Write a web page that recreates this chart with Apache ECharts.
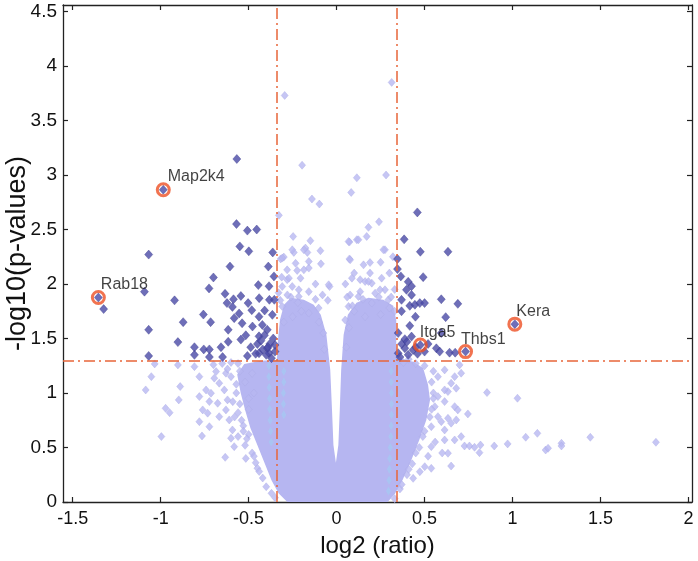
<!DOCTYPE html>
<html><head><meta charset="utf-8">
<script src="https://cdn.jsdelivr.net/npm/echarts@6/dist/echarts.min.js"></script>
<style>html,body{margin:0;padding:0;background:#fff}#c{width:698px;height:561px}</style>
</head><body><div id="c"></div>
<script>
const xTicks=[-1.5,-1,-0.5,0,0.5,1,1.5,2];
const yTicks=[0,0.5,1,1.5,2,2.5,3,3.5,4,4.5];
const pThreshold=1.301;
const fcThresholds=[-0.337,0.337];
const geneNames=['Map2k4','Rab18','Itga5','Thbs1','Kera'];
const geneX=[-0.985,-1.354,0.476,0.733,1.013];
const geneY=[2.865,1.876,1.44,1.38,1.632];

// outline of the dense, fully overlapping cloud of non-significant proteins
const coreOutline=[[-0.28,0],[-0.33,0.08],[-0.37,0.2],[-0.41,0.36],[-0.45,0.52],[-0.49,0.68],[-0.52,0.845],[-0.545,1.0],[-0.565,1.17],[-0.525,1.267],[-0.429,1.295],[-0.339,1.304],[-0.333,1.488],[-0.322,1.671],[-0.299,1.809],[-0.26,1.873],[-0.186,1.855],[-0.13,1.809],[-0.09,1.717],[-0.058,1.534],[-0.036,1.212],[-0.026,0.845],[-0.018,0.523],[-0.004,0.36],[0.01,0.523],[0.018,0.845],[0.026,1.212],[0.04,1.534],[0.064,1.717],[0.113,1.827],[0.181,1.873],[0.266,1.855],[0.322,1.80],[0.339,1.671],[0.339,1.442],[0.35,1.322],[0.435,1.286],[0.492,1.23],[0.52,1.074],[0.531,0.937],[0.51,0.753],[0.47,0.569],[0.425,0.386],[0.375,0.202],[0.33,0.07],[0.29,0]];

const lightPoints=[[-0.295,3.73],[0.313,3.85],[-0.196,3.09],[0.115,2.975],[0.281,3.0],[0.083,2.84],[-0.14,2.78],[-0.098,2.734],[-0.328,2.63],[0.241,2.571],[0.181,2.52],[-0.247,2.436],[-0.149,2.397],[0.073,2.385],[0.115,2.406],[0.171,2.436],[0.275,2.314],[-0.177,2.33],[-0.166,2.29],[-0.092,2.305],[-0.243,2.29],[-0.30,2.247],[-0.318,2.23],[-0.233,2.19],[-0.089,2.185],[0.073,2.23],[0.19,2.197],[-0.281,2.13],[-0.224,2.124],[-0.158,2.146],[0.087,2.054],[0.134,2.04],[0.162,2.023],[0.2,2.008],[0.256,2.054],[0.19,2.10],[-0.312,2.063],[-0.281,2.04],[-0.205,2.054],[-0.04,1.977],[-0.252,1.977],[-0.215,1.947],[0.077,1.90],[0.134,1.93],[0.219,1.916],[0.275,1.947],
[-0.252,2.314],[-0.186,2.314],[-0.309,2.238],[-0.158,2.207],[-0.186,2.13],[-0.271,2.054],[-0.045,1.993],[-0.309,1.977],[-0.158,1.93],[-0.215,1.885],[-0.102,1.779],[-0.309,1.794],[-0.158,1.733],
[0.068,2.39],[0.124,2.406],[0.266,2.314],[0.077,2.222],[0.153,2.176],[0.181,2.023],[0.247,1.947],[0.124,1.885],[0.068,1.794],[0.2,1.825],[0.294,1.855],[0.162,1.70],[0.049,1.67],
[0.3,2.1],[0.32,2.25],[0.25,2.2],[0.05,2.0],[0.1,2.1],[-0.12,2.0],[-0.08,1.9],[-0.33,1.92],[-0.26,1.88],[0.33,1.95],[0.3,1.78],[0.1,1.75],[-0.05,1.85],[0.06,1.88],[-0.2,1.75],[-0.25,1.7],[-0.3,1.65],[0.25,1.72],
[-0.32,1.85],[-0.28,1.9],[-0.22,1.83],[-0.12,1.86],[-0.1,1.65],[-0.075,1.55],[-0.07,1.4],[0.055,1.42],[0.07,1.6],[0.09,1.8],[0.15,1.86],[0.24,1.88],[0.31,1.88],[0.33,1.75],[0.36,1.3],[0.38,1.28],[0.41,1.31],
[-1.034,1.267],[-1.053,1.15],[-1.085,1.028],[-0.902,1.258],[-0.889,1.059],[-0.897,0.937],[-0.972,0.86],[-0.949,0.82],[-0.996,0.60],[-0.808,1.242],[-0.78,1.15],[-0.742,1.028],[-0.714,0.998],[-0.78,0.967],[-0.723,0.921],[-0.676,0.906],[-0.761,0.845],[-0.733,0.815],[-0.78,0.737],[-0.723,0.691],[-0.765,0.606],[-0.695,1.136],[-0.667,1.09],[-0.638,1.028],[-0.62,0.937],[-0.629,0.845],[-0.685,1.197],[-0.629,1.182],[-0.667,0.783],[-0.61,0.753],[-0.592,0.661],[-0.60,0.585],[-0.582,0.508],[-0.633,0.41],[-0.516,0.40],[-0.45,0.31],
[-0.55,1.2],[-0.52,1.1],[-0.57,1.0],[-0.55,0.9],[-0.5,0.85],[-0.58,0.78],[-0.53,0.7],[-0.5,0.62],[-0.6,1.15],[-0.48,1.18],[-0.47,1.0],[-0.5,0.95],[-0.65,1.27],[-0.6,1.28],[-0.56,0.6],[-0.52,0.52],[-0.48,0.45],[-0.46,0.36],[-0.42,0.22],[-0.4,0.14],[-0.37,0.08],
[-0.54,0.75],[-0.51,0.58],[-0.47,0.42],[-0.44,0.28],[-0.35,0.04],[-0.57,1.08],[-0.59,0.92],[-0.56,0.82],[-0.53,0.65],[-0.62,1.22],[-0.7,1.26],[-0.56,1.27],
[0.855,1.004],[1.028,0.952],[0.708,1.182],[0.651,1.09],[0.68,1.044],[0.633,1.013],[0.614,0.921],[0.671,0.875],[0.689,0.845],[0.746,0.808],[0.633,0.768],[0.68,0.753],[0.651,0.723],[0.614,0.661],[0.671,0.569],[0.708,0.60],[0.727,0.514],[0.755,0.514],[0.784,0.502],[0.818,0.523],[0.812,0.453],[0.896,0.514],[0.972,0.533],[1.075,0.594],[1.141,0.63],[1.188,0.477],[1.202,0.493],[1.278,0.539],[1.278,0.514],[1.442,0.594],[1.815,0.548],[0.633,0.447],[0.538,0.508],[0.614,0.569],[0.651,0.33],[0.538,0.309],[0.435,0.217],[0.501,0.324],[0.473,0.278],[0.671,1.15],[0.614,1.212],[0.699,1.258],[0.576,1.15],[0.614,1.028],[0.576,0.967],[0.558,0.875],[0.576,0.783],[0.538,0.691],[0.595,0.737],
[0.55,1.0],[0.54,0.85],[0.5,0.65],[0.47,0.5],[0.43,0.35],[0.4,0.25],[0.36,0.12],[0.45,1.27],[0.5,1.25],[0.55,1.2],[0.52,0.42],[0.56,0.55],[0.6,0.45],
[0.54,1.1],[0.55,0.95],[0.53,0.78],[0.49,0.6],[0.45,0.45],[0.41,0.3],[0.37,0.16],[0.33,0.03]];

// pale-blue overlapping streaks inside the cloud
const streakPoints=[[-0.385,1.25],[-0.385,1.15],[-0.383,1.05],[-0.381,0.95],[-0.38,0.85],[-0.378,0.75],[-0.375,0.65],[-0.372,0.55],[0.31,1.2],[0.31,1.1],[0.312,1.0],[0.312,0.9],[0.312,0.8],[0.31,0.7],[0.308,0.6],[0.305,0.5],[0.302,0.4],[0.3,0.3],[0.298,0.2],[0.295,0.1],[-0.3,1.2],[-0.3,1.1],[-0.302,1.0],[-0.302,0.9],[-0.3,0.8]];

const downPoints=[[-0.567,3.147],[-0.569,2.55],[-0.507,2.49],[-0.454,2.50],[-0.55,2.345],[-0.499,2.30],[-1.068,2.27],[-0.363,2.29],[-0.606,2.16],[-0.388,2.16],[-0.356,2.07],[-0.70,2.06],[-0.445,1.99],[-0.384,1.98],[-0.725,1.96],[-1.092,1.93],[-0.634,1.91],[-0.544,1.89],[-0.921,1.85],[-0.586,1.86],[-0.44,1.87],[-0.382,1.855],[-0.354,1.855],[-0.623,1.825],[-0.503,1.825],[-0.592,1.79],[-0.482,1.76],[-0.409,1.757],[-1.324,1.77],[-0.554,1.73],[-0.757,1.72],[-0.582,1.687],[-0.441,1.70],[-0.365,1.717],[-0.872,1.65],[-0.716,1.65],[-0.537,1.64],[-0.478,1.61],[-0.422,1.625],[-1.068,1.58],[-0.616,1.58],[-0.394,1.58],[-0.516,1.53],[-0.441,1.52],[-0.902,1.467],[-0.616,1.47],[-0.544,1.49],[-0.808,1.42],[-0.755,1.40],[-0.723,1.40],[-0.657,1.42],[-0.488,1.42],[-0.394,1.41],[-1.068,1.34],[-0.808,1.35],[-0.723,1.33],[-0.648,1.33],[-0.507,1.34],[-0.441,1.365],[-0.384,1.365],[-0.45,1.45],[-0.42,1.40],[-0.40,1.35],[-0.38,1.45],[-0.36,1.50],[-0.35,1.38],[-0.37,1.32],[-0.46,1.36],[-0.43,1.48],[-0.39,1.42],[-0.35,1.44],[-0.41,1.53],[-0.985,2.865],[-1.354,1.876]];

const upPoints=[[0.459,2.657],[0.384,2.41],[0.476,2.296],[0.633,2.296],[0.346,2.229],[0.346,2.137],[0.365,2.07],[0.492,2.063],[0.407,2.02],[0.426,1.98],[0.397,1.947],[0.426,1.90],[0.369,1.855],[0.595,1.86],[0.416,1.80],[0.445,1.81],[0.473,1.825],[0.689,1.818],[0.369,1.75],[0.448,1.70],[0.62,1.696],[0.416,1.616],[0.35,1.55],[0.388,1.494],[0.426,1.518],[0.595,1.55],[0.52,1.45],[0.567,1.41],[0.586,1.38],[0.642,1.37],[0.674,1.37],[0.388,1.41],[0.35,1.365],[0.407,1.35],[0.435,1.395],[0.50,1.38],[0.50,1.825],[0.37,1.45],[0.40,1.47],[0.45,1.42],[0.36,1.33],[0.46,1.36],[0.476,1.44],[0.733,1.38],[1.013,1.632]];

// label placement (style only)
const labelOffsets=[[-8,-13],[-10,-13],[-13,-12],[-17,-12],[-11,-13]];

const xMin=-1.555, xMax=2.02, yMin=0, yMax=4.56;
const FONT='"Liberation Sans", Arial, Helvetica, sans-serif';
const axisCommon={
  axisLine:{show:true,onZero:false,lineStyle:{color:'#222',width:1.3}},
  axisTick:{show:true,inside:true,length:5,lineStyle:{color:'#222',width:1.2}},
  splitLine:{show:false}
};
const chart=echarts.init(document.getElementById('c'),null,{renderer:'canvas'});
const option={
  animation:false,
  backgroundColor:'#fff',
  grid:{left:63,right:6,top:5,bottom:59,containLabel:false,outerBoundsMode:'none'},
  xAxis:[
    Object.assign({type:'value',min:xMin,max:xMax,position:'bottom',
      name:'log2 (ratio)',nameLocation:'middle',nameGap:32,
      nameTextStyle:{fontFamily:FONT,fontSize:24,color:'#111'},
      axisLabel:{customValues:xTicks,fontFamily:FONT,fontSize:18,color:'#111',margin:8,
        formatter:v=>String(v)}},axisCommon,
      {axisTick:Object.assign({},axisCommon.axisTick,{customValues:xTicks})}),
    Object.assign({type:'value',min:xMin,max:xMax,position:'top',axisLabel:{show:false}},axisCommon,
      {axisTick:Object.assign({},axisCommon.axisTick,{customValues:xTicks})})
  ],
  yAxis:[
    Object.assign({type:'value',min:yMin,max:yMax,position:'left',
      name:'-log10(p-values)',nameLocation:'middle',nameGap:32,nameRotate:90,nameMoveOverlap:false,
      nameTextStyle:{fontFamily:FONT,fontSize:27,color:'#111'},
      axisLabel:{customValues:yTicks,fontFamily:FONT,fontSize:19,color:'#111',margin:6,
        formatter:v=>String(v)}},axisCommon,
      {axisTick:Object.assign({},axisCommon.axisTick,{customValues:yTicks})}),
    Object.assign({type:'value',min:yMin,max:yMax,position:'right',axisLabel:{show:false}},axisCommon,
      {axisTick:Object.assign({},axisCommon.axisTick,{customValues:yTicks})})
  ],
  series:[
    {type:'custom',coordinateSystem:'cartesian2d',silent:true,z:1,clip:true,
      data:[[0,0]],
      renderItem:(params,api)=>{
        if(params.dataIndex!==0) return;
        const pts=coreOutline.map(p=>api.coord(p));
        return {type:'polygon',shape:{points:pts},style:{fill:'#b6b6f1'}};
      }},
    {type:'scatter',silent:true,z:2,symbol:'diamond',symbolSize:[7,8],
      itemStyle:{color:'#b8b8f1',borderColor:'#aaaae6',borderWidth:0.5},data:lightPoints},
    {type:'scatter',silent:true,z:2,symbol:'diamond',symbolSize:[5,9],
      itemStyle:{color:'#a6c8f2'},data:streakPoints},
    {type:'scatter',silent:true,z:3,data:[],
      markLine:{silent:true,symbol:'none',label:{show:false},animation:false,
        lineStyle:{color:'#e8653a',width:1.5,type:[11,4,2,4]},
        data:[{yAxis:pThreshold},{xAxis:fcThresholds[0]},{xAxis:fcThresholds[1]}]}},
    {type:'scatter',silent:true,z:4,symbol:'diamond',symbolSize:[8,9],
      itemStyle:{color:'#4a4aa6',borderColor:'#3c3c8e',borderWidth:0.5},data:downPoints.concat(upPoints)},
    {type:'scatter',silent:true,z:5,symbol:'circle',symbolSize:12,
      itemStyle:{color:'rgba(0,0,0,0)',borderColor:'#ee5024',borderWidth:3},
      label:{show:true,position:'right',fontFamily:FONT,fontSize:16,color:'#111'},
      data:geneNames.map((n,i)=>({value:[geneX[i],geneY[i]],name:n,
        label:{formatter:n,offset:labelOffsets[i]}}))}
  ]
};
chart.setOption(option);
</script></body></html>
